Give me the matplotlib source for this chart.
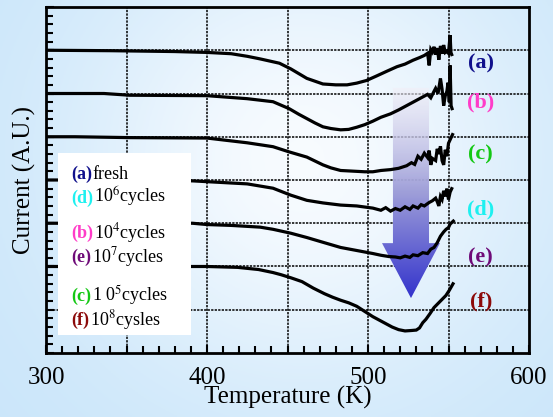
import numpy as np
import matplotlib
matplotlib.use("Agg")
import matplotlib.pyplot as plt
from matplotlib.patches import Polygon, Rectangle

plt.rcParams['font.family'] = 'Liberation Serif'
plt.rcParams['mathtext.fontset'] = 'stix'

# curve data (temperature K, current A.U. with vertical offset)
Ta = [300, 340, 380, 400, 415, 425, 433, 445, 452, 462, 472, 480, 487, 493, 499, 505, 512, 518, 523, 528,
      532, 535, 537, 538, 539, 540, 541, 542, 543, 544, 545, 546, 547, 548, 549, 550, 551, 551.5, 552]
ya = [7.0, 6.99, 6.97, 6.95, 6.92, 6.86, 6.80, 6.70, 6.57, 6.35, 6.22, 6.20, 6.20, 6.24, 6.30, 6.40, 6.52, 6.62, 6.68, 6.77,
      6.83, 6.88, 6.93, 6.65, 7.02, 6.96, 7.08, 6.90, 7.05, 6.78, 7.10, 6.92, 7.12, 6.95, 6.98, 6.93, 7.35, 6.95, 6.90]

Tb = [300, 336, 352, 400, 425, 441, 451, 457, 462, 467, 472, 477, 483, 488, 493, 498, 503, 508, 514, 519,
      524, 529, 534, 537, 539, 541, 542, 543.5, 545, 546, 547, 548, 549, 549.7, 550.5, 551, 551.6, 552.2]
yb = [6.0, 6.0, 5.96, 5.95, 5.88, 5.81, 5.65, 5.52, 5.42, 5.32, 5.23, 5.19, 5.16, 5.17, 5.22, 5.28, 5.36, 5.45, 5.53, 5.62,
      5.72, 5.82, 5.92, 5.98, 5.90, 6.05, 6.12, 6.00, 6.35, 6.10, 5.72, 5.95, 6.05, 6.25, 5.80, 6.65, 5.72, 5.65]

Tc = [300, 318, 352, 400, 425, 441, 451, 462, 467, 472, 477, 483, 488, 493, 498, 503, 508, 514, 519, 524,
      527, 529, 531, 533, 535, 537, 538, 539, 540, 542, 543, 544, 545, 546, 547, 548, 549, 550, 551, 552.5]
yc = [5.0, 5.0, 4.98, 4.97, 4.86, 4.77, 4.65, 4.53, 4.44, 4.35, 4.28, 4.22, 4.21, 4.20, 4.19, 4.19, 4.22, 4.24, 4.27, 4.33,
      4.40, 4.36, 4.55, 4.48, 4.62, 4.52, 4.68, 4.35, 4.50, 4.45, 4.72, 4.60, 4.78, 4.45, 4.35, 4.70, 4.55, 4.85, 4.93, 5.05]

Td = [300, 352, 391, 425, 441, 452, 462, 472, 483, 493, 503, 508, 511, 514, 517, 520, 523, 526, 528, 531,
      533, 535, 538, 540, 542, 543, 544, 545, 546, 547, 548, 549, 550, 551, 552]
yd = [4.0, 4.0, 3.98, 3.91, 3.81, 3.65, 3.53, 3.47, 3.42, 3.40, 3.35, 3.30, 3.36, 3.28, 3.34, 3.30, 3.38, 3.32, 3.40, 3.35,
      3.43, 3.40, 3.48, 3.52, 3.58, 3.50, 3.40, 3.62, 3.55, 3.75, 3.62, 3.80, 3.55, 3.72, 3.80]

Te = [300, 391, 400, 415, 433, 441, 452, 462, 472, 483, 493, 503, 508, 513, 517, 520, 523, 526, 528, 531,
      534, 537, 539, 541, 543, 545, 547, 548.5, 550, 551, 553]
ye = [3.0, 3.0, 2.97, 2.95, 2.91, 2.86, 2.77, 2.67, 2.56, 2.44, 2.37, 2.30, 2.26, 2.23, 2.22, 2.20, 2.24, 2.21, 2.27, 2.25,
      2.32, 2.30, 2.40, 2.44, 2.55, 2.70, 2.80, 2.86, 2.90, 2.98, 3.05]

Tf = [300, 400, 419, 432, 441, 446, 452, 459, 466, 473, 478, 483, 488, 493, 498, 503, 508, 511, 515, 519,
      523, 527, 530, 532, 534, 536, 538.5, 541, 544.7, 548.4, 550.5, 552.8]
yf = [2.0, 2.0, 1.98, 1.93, 1.86, 1.81, 1.74, 1.65, 1.50, 1.37, 1.29, 1.22, 1.16, 1.08, 0.96, 0.84, 0.74, 0.68, 0.60, 0.54,
      0.51, 0.52, 0.53, 0.58, 0.70, 0.78, 0.91, 1.05, 1.19, 1.33, 1.45, 1.60]

curves = [(Ta, ya), (Tb, yb), (Tc, yc), (Td, yd), (Te, ye), (Tf, yf)]

tags = ['(a)', '(b)', '(c)', '(d)', '(e)', '(f)']
tag_colors = ['#10108c', '#ff3cc8', '#14c814', '#1ef0f0', '#6e0a78', '#8c0a0a']
tag_y = [6.70, 5.80, 4.60, 3.31, 2.20, 1.18]

# legend entries in display order
leg_tags = ['(a)', '(d)', '(b)', '(e)', '(c)', '(f)']
leg_colors = ['#10108c', '#1ef0f0', '#ff3cc8', '#6e0a78', '#14c814', '#8c0a0a']
leg_text = ['fresh', r'10$^{6}$cycles', r'10$^{4}$cycles', r'10$^{7}$cycles', r'1 0$^{5}$cycles', r'10$^{8}$cysles']
leg_ypos = [0.503, 0.434, 0.332, 0.263, 0.150, 0.081]

fig = plt.figure(figsize=(5.53, 4.17), dpi=100)

# background gradient
bg = fig.add_axes([0, 0, 1, 1], zorder=-10)
gx, gy = np.meshgrid(np.linspace(0, 1, 200), np.linspace(0, 1, 200))
w = np.exp(-((gx - 0.55) / 0.42) ** 2 - ((gy - 0.62) / 0.55) ** 2)
blue = np.array([0.79, 0.90, 0.98])
white = np.array([0.97, 0.985, 1.0])
img = blue[None, None, :] * (1 - w[..., None]) + white[None, None, :] * w[..., None]
bg.imshow(img, origin='lower', extent=[0, 1, 0, 1], aspect='auto')
bg.axis('off')

ax = fig.add_axes([0.0832, 0.1535, 0.8734, 0.8297])
ax.set_facecolor('none')
ax.set_xlim(300, 600)
ax.set_ylim(0, 8)

# grid
for gxv in [350, 400, 450, 500, 550]:
    ax.axvline(gxv, color='black', lw=1.1, ls=(0, (1.5, 0.8)), zorder=1)
for gyv in [1, 2, 3, 4, 5, 6, 7]:
    ax.axhline(gyv, color='black', lw=1.1, ls=(0, (1.5, 0.8)), zorder=1)

# gradient arrow
arrow_pts = [(515.5, 6.13), (537.9, 6.13), (537.9, 2.54), (544.7, 2.54),
             (526.7, 1.27), (508.7, 2.54), (515.5, 2.54)]
poly = Polygon(arrow_pts, closed=True, facecolor='none', edgecolor='none')
ax.add_patch(poly)
grad = np.linspace(0, 1, 256)[:, None]
top_c = np.array([0.95, 0.94, 0.97, 0.6])
mid_c = np.array([0.62, 0.62, 0.85, 1.0])
bot_c = np.array([0.20, 0.20, 0.80, 1.0])
rgba = np.where(grad[..., None] > 0.5,
                mid_c + (top_c - mid_c) * ((grad[..., None] - 0.5) / 0.5),
                bot_c + (mid_c - bot_c) * (grad[..., None] / 0.5))
rgba = np.repeat(rgba, 4, axis=1)
im = ax.imshow(rgba, origin='lower', extent=[508, 545, 1.27, 6.13], aspect='auto', zorder=2)
im.set_clip_path(poly)

for T, y in curves:
    ax.plot(T, y, color='black', lw=2.3, zorder=3, solid_joinstyle='miter')

# legend box
ax.add_patch(Rectangle((0.025, 0.052), 0.275, 0.526, transform=ax.transAxes,
                       facecolor='white', edgecolor='none', zorder=5))
for t, c, s, yp in zip(leg_tags, leg_colors, leg_text, leg_ypos):
    tt = ax.text(0.052, yp, t, color=c, fontsize=13, fontweight='bold', transform=ax.transAxes,
                 va='baseline', zorder=6)
    ax.annotate(s, xy=(1, yp), xycoords=(tt, ax.transAxes), xytext=(0.5, 0), textcoords='offset points',
                fontsize=13, va='baseline', ha='left', zorder=6)

# right-hand tags
for t, c, yp in zip(tags, tag_colors, tag_y):
    ax.text(570, yp, t, color=c, fontsize=16, fontweight='bold', ha='center', va='center', zorder=6)

ax.set_xticks([300, 400, 500, 600])
ax.set_xticks(np.arange(300, 601, 10), minor=True)
ax.set_yticks(np.arange(0, 9, 1))
ax.set_yticks(np.arange(0, 8.01, 0.2), minor=True)
ax.set_yticklabels([])
ax.tick_params(axis='both', which='both', direction='in', top=False, right=False, width=1.5)
ax.tick_params(axis='both', which='major', length=6, labelsize=18, pad=10)
ax.tick_params(axis='both', which='minor', length=5)
for sp in ax.spines.values():
    sp.set_linewidth(2)

ax.set_xlabel('Temperature (K)', fontsize=18, labelpad=-2)
ax.set_ylabel('Current (A.U.)', fontsize=18)
ax.yaxis.set_label_coords(-0.02, 0.5)

fig.savefig('out.png', dpi=100)
